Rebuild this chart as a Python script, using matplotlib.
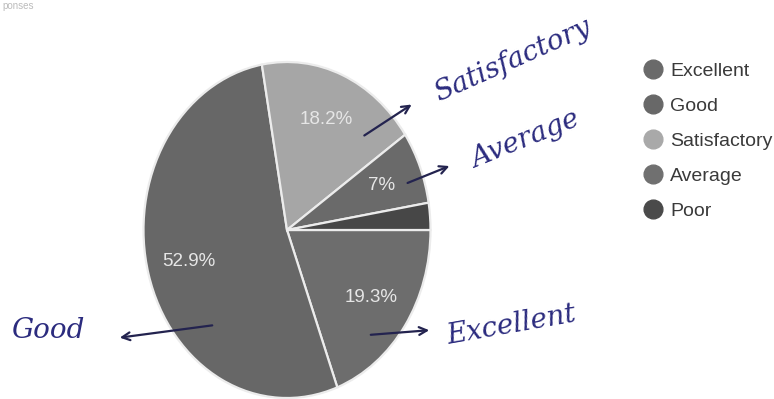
import matplotlib
matplotlib.use("Agg")
import matplotlib.pyplot as plt
from matplotlib.lines import Line2D
from matplotlib.patches import FancyArrowPatch

categories = ["Excellent", "Good", "Satisfactory", "Average", "Poor"]
values = [19.3, 52.9, 18.2, 7.0, 2.6]
colors = ["#6d6d6d", "#676767", "#a6a6a6", "#6a6a6a", "#474747"]
legend_colors = ["#6a6a6a", "#686868", "#a9a9a9", "#707070", "#4a4a4a"]
hand_labels = ["Excellent", "Good", "Satisfactory", "Average"]

W, H = 774, 399
fig = plt.figure(figsize=(W / 100, H / 100), dpi=100)
plt.rcParams['font.family'] = ['Liberation Sans', 'DejaVu Sans']


def fx(x):
    return x / W


def fy(y):
    return 1 - y / H


# pie axes (the scanned pie is an ellipse)
cx, cy, rx, ry = 287, 230, 143.5, 168
ax = fig.add_axes([fx(cx - rx), fy(cy + ry), 2 * rx / W, 2 * ry / H])


def fmt(p):
    if p < 5:
        return ""
    if abs(p - round(p)) < 0.05:
        return "%d%%" % round(p)
    return "%.1f%%" % p


wedges, texts, autotexts = ax.pie(
    values, colors=colors, startangle=0, counterclock=False,
    autopct=fmt, pctdistance=0.71,
    wedgeprops=dict(edgecolor="#ececec", linewidth=1.6),
    textprops=dict(color="#e6e6e6", fontsize=13.5))
ax.set_aspect("auto")
ax.set_xlim(-1, 1)
ax.set_ylim(-1, 1)
for w in wedges:
    w.set_clip_on(False)

# legend
handles = [Line2D([0], [0], marker="o", linestyle="none", markersize=13.5,
                  markerfacecolor=c, markeredgecolor=c) for c in legend_colors]
fig.legend(handles, categories, loc="upper left",
           bbox_to_anchor=(fx(643), fy(62)), frameon=False, fontsize=14,
           labelcolor="#3a3a3a", handlelength=1.0, handletextpad=0.4,
           labelspacing=0.9, borderaxespad=0, borderpad=0)

# faint cut-off header
fig.text(fx(2), fy(1), "ponses", fontsize=7, color="#bbbbbb", va="top", ha="left")

# handwritten annotations
ink = "#2b2b7e"
hw = dict(color=ink, fontsize=20, style="italic", family="DejaVu Serif")
arrow = dict(arrowstyle="->", color="#23234f", lw=1.6, mutation_scale=14)

fig.text(fx(513), fy(60), hand_labels[2], rotation=24, ha="center", va="center", **hw)
fig.text(fx(525), fy(140), hand_labels[3], rotation=22, ha="center", va="center", **hw)
fig.text(fx(48), fy(330), hand_labels[1], rotation=0, ha="center", va="center", **hw)
fig.text(fx(512), fy(325), hand_labels[0], rotation=10, ha="center", va="center", **hw)

for (x0, y0), (x1, y1) in [((362, 137), (414, 103)), ((405, 184), (452, 165)),
                           ((215, 325), (117, 338)), ((368, 335), (432, 330))]:
    fig.add_artist(FancyArrowPatch((fx(x0), fy(y0)), (fx(x1), fy(y1)),
                                   transform=fig.transFigure, **arrow))

fig.savefig("out.png", dpi=100)
